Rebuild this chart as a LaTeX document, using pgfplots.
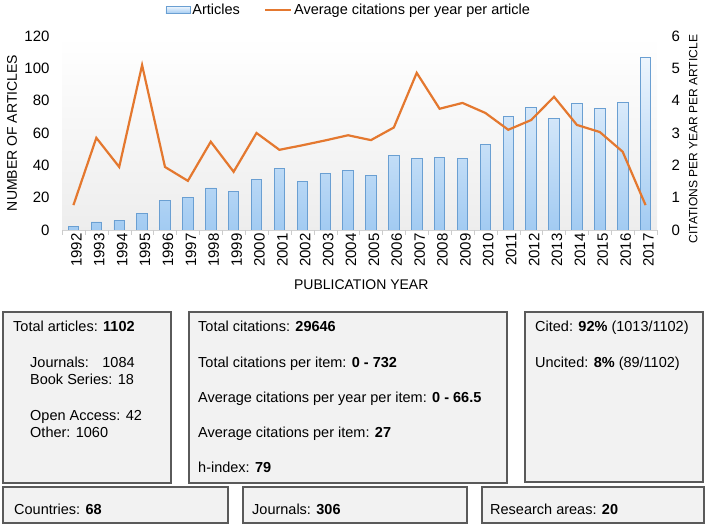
\documentclass[border=0pt]{standalone}
\usepackage{fontspec}
\setmainfont{Liberation Sans}
\usepackage{pgfplots}
\pgfplotsset{compat=1.18}

\definecolor{barEdge}{HTML}{6A9FD2}
\definecolor{barTop}{HTML}{EDF5FD}
\definecolor{barBot}{HTML}{A2CBF2}
\definecolor{lineorange}{HTML}{E4782F}
\definecolor{boxfill}{HTML}{F2F2F2}
\definecolor{boxedge}{HTML}{5A5A5A}

\newcommand{\lab}{\fontsize{14}{16}\selectfont}
\newcommand{\tck}{\fontsize{15}{17}\selectfont}
\newcommand{\boxtxt}{\fontsize{14.5}{17}\selectfont}

\begin{document}
\begin{tikzpicture}
\useasboundingbox (0pt,0pt) rectangle (709pt,527pt);
\pgfplotsset{
  /pgf/number format/assume math mode=true,
  every tick label/.append style={font=\tck},
}

% bars: number of articles (left axis)
\begin{axis}[
  at={(62pt,297pt)}, anchor=south west,
  scale only axis, width=595pt, height=194pt,
  xmin=1991.5, xmax=2017.5, ymin=0, ymax=120,
  axis x line*=bottom, axis y line*=left,
  y axis line style={draw=none},
  x axis line style={draw=gray!35, -},
  axis background/.style={shade, top color=white, bottom color=black!7},
  xtick={1992,...,2017},
  x tick label style={rotate=90, anchor=east, yshift=-3pt, /pgf/number format/1000 sep={}},
  major tick length=0pt,
  extra x ticks={1991.5,1992.5,...,2017.5},
  extra x tick labels={},
  extra x tick style={major tick length=5pt, tick align=outside, tick style={gray!40}},
  ytick={0,20,...,120},
  yticklabel style={xshift=-9pt},
  xlabel={PUBLICATION YEAR},
  ylabel={NUMBER OF ARTICLES},
  every axis x label/.style={at={(axis description cs:0.503,-0.284)}, anchor=center, font=\lab},
  every axis y label/.style={at={(axis description cs:-0.084,0.5)}, rotate=90, anchor=center, font=\lab},
]
\addplot[ybar, bar width=10.5pt, bar shift=0pt, draw=barEdge, line width=0.8pt,
  top color=barTop, bottom color=barBot] coordinates {
  (1992,2) (1993,5) (1994,6) (1995,10) (1996,18) (1997,20) (1998,26) (1999,24)
  (2000,31) (2001,38) (2002,30) (2003,35) (2004,37) (2005,34) (2006,46) (2007,44)
  (2008,45) (2009,44) (2010,53) (2011,70) (2012,76) (2013,69) (2014,78) (2015,75)
  (2016,79) (2017,107)
};
\end{axis}

% line: average citations per year per article (right axis)
\begin{axis}[
  at={(62pt,297pt)}, anchor=south west,
  scale only axis, width=595pt, height=194pt,
  xmin=1991.5, xmax=2017.5, ymin=0, ymax=6,
  axis x line=none, axis y line*=right,
  y axis line style={draw=none},
  major tick length=0pt,
  ytick={0,1,...,6},
  yticklabel style={xshift=11pt},
  ylabel={CITATIONS PER YEAR PER ARTICLE},
  every axis y label/.style={at={(axis description cs:1.061,0.469)}, rotate=90, anchor=center, font=\fontsize{12}{14}\selectfont},
  legend style={at={(axis description cs:0.482,1.134)}, anchor=center,
    draw=none, fill=none, legend columns=2, font=\fontsize{14.5}{16}\selectfont,
    /tikz/every even column/.append style={column sep=22pt}},
]
\addlegendimage{legend image code/.code={
  \draw[draw=barEdge, line width=0.8pt, top color=barTop, bottom color=barBot] (0pt,-3.5pt) rectangle (24pt,3.5pt);}}
\addlegendentry{Articles}
\addplot[color=lineorange, line width=2.2pt, mark=none,
  legend image code/.code={\draw[lineorange, line width=2.2pt] (0pt,0pt) -- (26pt,0pt);}]
  coordinates {
  (1992,0.77) (1993,2.85) (1994,1.95) (1995,5.1) (1996,1.95) (1997,1.52) (1998,2.73)
  (1999,1.8) (2000,3.0) (2001,2.48) (2002,2.62) (2003,2.77) (2004,2.93) (2005,2.78)
  (2006,3.17) (2007,4.86) (2008,3.75) (2009,3.93) (2010,3.62) (2011,3.1) (2012,3.4)
  (2013,4.12) (2014,3.25) (2015,3.03) (2016,2.42) (2017,0.77)
};
\addlegendentry{Average citations per year per article}
\end{axis}

% summary boxes
\begin{scope}[every node/.style={font=\boxtxt, inner sep=0pt, anchor=base west}]
\draw[fill=boxfill, draw=boxedge, line width=1.2pt] (3pt,215pt) rectangle (171pt,44pt);
\draw[fill=boxfill, draw=boxedge, line width=1.2pt] (189pt,215pt) rectangle (507pt,44pt);
\draw[fill=boxfill, draw=boxedge, line width=1.2pt] (525pt,215pt) rectangle (703pt,45pt);
\draw[fill=boxfill, draw=boxedge, line width=1.2pt] (3pt,40pt) rectangle (228pt,4pt);
\draw[fill=boxfill, draw=boxedge, line width=1.2pt] (243pt,40pt) rectangle (467pt,4pt);
\draw[fill=boxfill, draw=boxedge, line width=1.2pt] (482pt,40pt) rectangle (704pt,4pt);

\node at (13pt,195pt) {Total articles: \textbf{1102}};
\node at (30pt,159pt) {Journals:\hspace{8pt} 1084};
\node at (30pt,142pt) {Book Series: 18};
\node at (30pt,106pt) {Open Access: 42};
\node at (30pt,89pt) {Other: 1060};

\node at (198pt,195pt) {Total citations: \textbf{29646}};
\node at (198pt,159pt) {Total citations per item: \textbf{0 - 732}};
\node at (198pt,124pt) {Average citations per year per item: \textbf{0 - 66.5}};
\node at (198pt,89pt) {Average citations per item: \textbf{27}};
\node at (198pt,54pt) {h-index: \textbf{79}};

\node at (535pt,195pt) {Cited: \textbf{92\%} (1013/1102)};
\node at (535pt,159pt) {Uncited: \textbf{8\%} (89/1102)};

\node at (14pt,12pt) {Countries: \textbf{68}};
\node at (252pt,12pt) {Journals: \textbf{306}};
\node at (490pt,12pt) {Research areas: \textbf{20}};
\end{scope}
\end{tikzpicture}
\end{document}
